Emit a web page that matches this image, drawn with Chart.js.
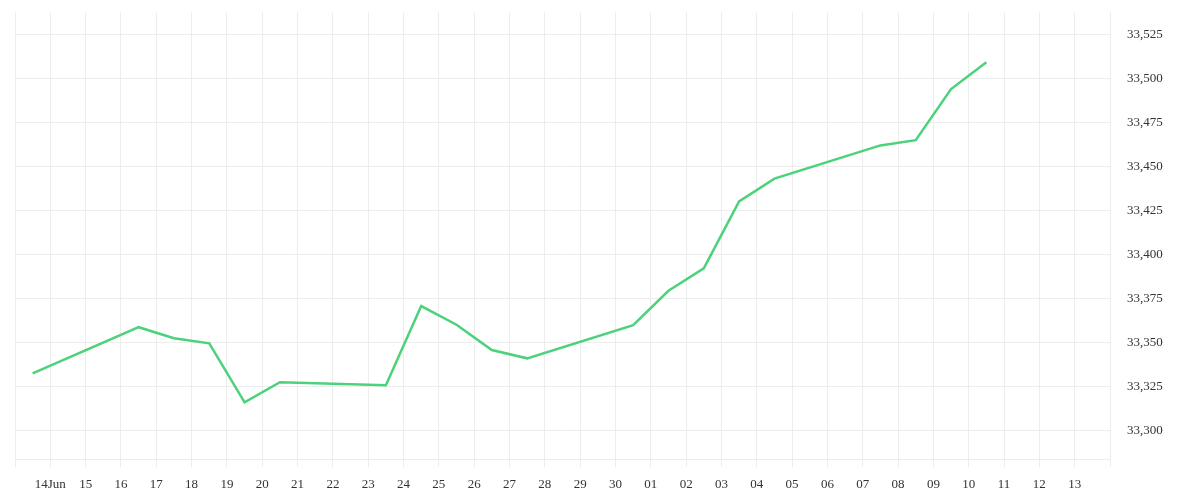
<!DOCTYPE html>
<html>
<head>
<meta charset="utf-8">
<script src="https://cdn.jsdelivr.net/npm/chart.js@4/dist/chart.umd.min.js"></script>
<style>
  html, body { margin: 0; padding: 0; background: #fff; }
  #wrap { width: 1200px; height: 500px; position: relative; }
</style>
</head>
<body>
<div id="wrap"><canvas id="myChart"></canvas></div>
<script>
// 資料：交易日 (月-日) 與收盤值
const dates = ['06-13', '06-16', '06-17', '06-18', '06-19', '06-20',
               '06-23', '06-24', '06-25', '06-26', '06-27',
               '06-30', '07-01', '07-02', '07-03', '07-04',
               '07-07', '07-08', '07-09', '07-10'];
const values = [33332.4, 33358.6, 33352.3, 33349.4, 33315.9, 33327.3,
                33325.6, 33370.6, 33360.0, 33345.6, 33340.9,
                33359.7, 33379.3, 33392.0, 33430.1, 33443.0,
                33461.9, 33464.9, 33493.9, 33509.1];

// X 軸刻度標籤 (6/13 ~ 7/14，頭尾不顯示)
const tickLabels = ['', '14Jun', '15', '16', '17', '18', '19', '20', '21', '22', '23',
                    '24', '25', '26', '27', '28', '29', '30', '01', '02', '03', '04',
                    '05', '06', '07', '08', '09', '10', '11', '12', '13', ''];

const yMin = 33283.7;
const yMax = 33537.7;

// 函式：日期轉成距 6/13 的天數 (取中午)
function dayOffset(md) {
    const [m, d] = md.split('-').map(Number);
    const days = m === 6 ? d - 13 : 30 - 13 + d;
    return days + 0.5;
}

const points = dates.map((md, i) => ({ x: dayOffset(md), y: values[i] }));

const gridColor = '#ededed';
const textFont = { family: '"Liberation Serif", serif', size: 13 };

const ctx = document.getElementById('myChart').getContext('2d');
const myChart = new Chart(ctx, {
    type: 'line',
    data: {
        datasets: [{
            data: points,
            borderColor: '#4cd27a',
            borderWidth: 2.5,
            tension: 0,
            fill: false,
            pointRadius: 0
        }]
    },
    options: {
        responsive: true,
        maintainAspectRatio: false,
        animation: false,
        layout: { padding: { left: 15, top: 12, right: 0, bottom: 0 } },
        plugins: {
            legend: { display: false },
            tooltip: { enabled: false }
        },
        scales: {
            x: {
                type: 'linear',
                min: 0,
                max: tickLabels.length - 1,
                grid: { color: gridColor, tickLength: 8 },
                border: { color: gridColor },
                ticks: {
                    stepSize: 1,
                    autoSkip: false,
                    maxRotation: 0,
                    padding: 10,
                    color: '#333',
                    font: textFont,
                    callback: v => tickLabels[v]
                },
                afterFit: s => { s.height = 41; }
            },
            y: {
                position: 'right',
                min: yMin,
                max: yMax,
                grid: { color: gridColor, drawTicks: false },
                border: { color: gridColor },
                ticks: {
                    stepSize: 25,
                    includeBounds: false,
                    padding: 17,
                    color: '#333',
                    font: textFont,
                    callback: v => v.toLocaleString('en-US')
                },
                afterFit: s => {
                    s.width = 90;
                    s.paddingTop = 0;
                    s.paddingBottom = 0;
                }
            }
        }
    }
});
</script>
</body>
</html>
